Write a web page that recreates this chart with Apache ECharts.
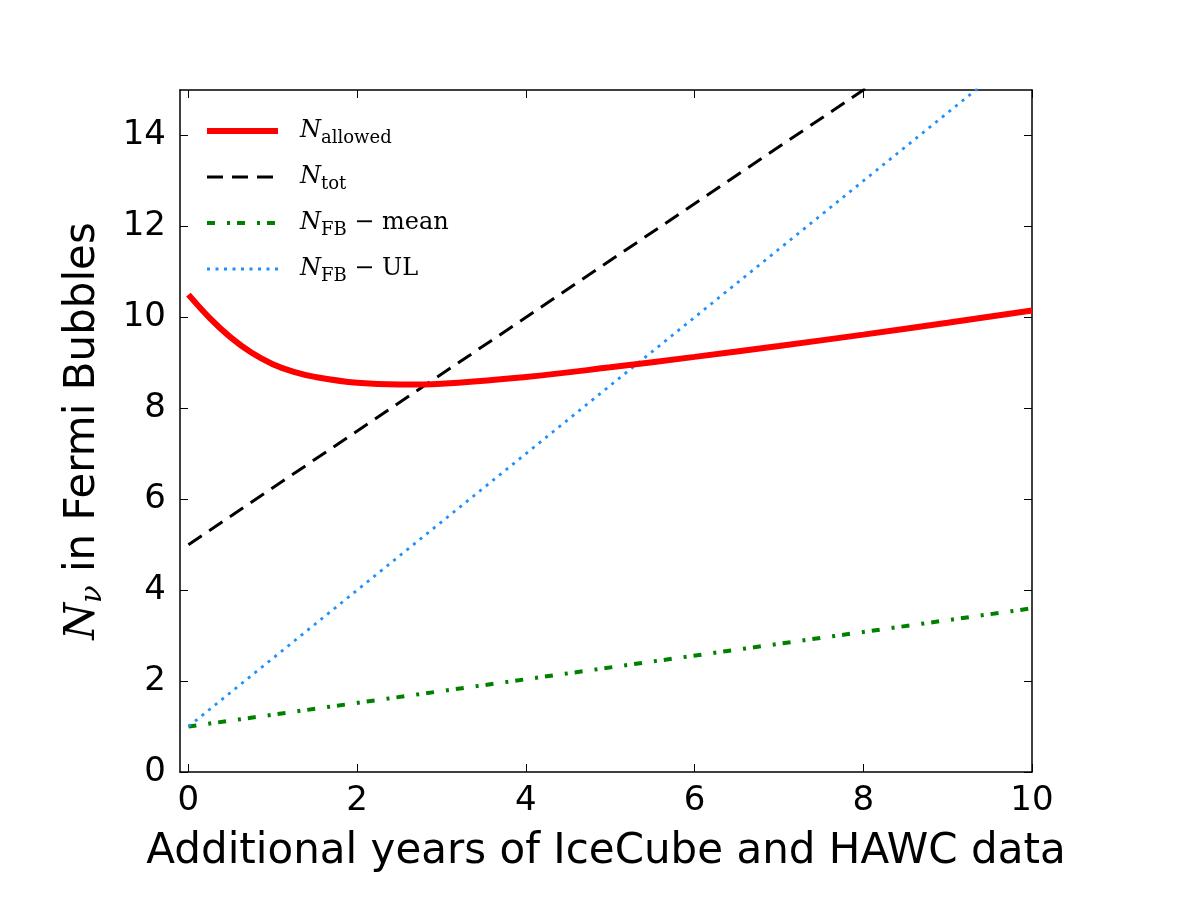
<!DOCTYPE html>
<html>
<head>
<meta charset="utf-8">
<script src="https://cdn.jsdelivr.net/npm/echarts@6/dist/echarts.min.js"></script>
<style>html,body{margin:0;padding:0;background:#fff}#c{width:1200px;height:900px}</style>
</head>
<body>
<div id="c"></div>
<script>
// ---- data ----
const allowedX = [0, 0.25, 0.5, 0.75, 1, 1.25, 1.5, 2, 2.5, 3, 4, 5, 6, 7, 8, 9, 10];
const allowedY = [10.5, 9.99, 9.56, 9.22, 8.97, 8.8, 8.69, 8.56, 8.52, 8.54, 8.69, 8.9, 9.13, 9.37, 9.62, 9.88, 10.15];
const lineX = [0, 10];
const totY = [5, 17.5];
const fbMeanY = [1, 3.6];
const fbUlY = [1, 16];
const xTicks = [0, 2, 4, 6, 8, 10];
const yTicks = [0, 2, 4, 6, 8, 10, 12, 14];
const seriesNames = ['allowed', 'tot', 'mean', 'UL'];

const pair = (xs, ys) => xs.map((x, i) => [x, ys[i]]);

const SERIF = 'DejaVu Serif';
const legendRich = {
  n: {fontFamily: SERIF, fontStyle: 'italic', fontSize: 24, lineHeight: 32, color: '#000', padding: [0, 0, 0, 17]},
  s: {fontFamily: SERIF, fontSize: 18, lineHeight: 16, verticalAlign: 'bottom', color: '#000'},
  t: {fontFamily: SERIF, fontSize: 24, lineHeight: 32, color: '#000'}
};
const legendText = {
  allowed: '{n|N}{s|allowed}',
  tot: '{n|N}{s|tot}',
  mean: '{n|N}{s|FB}{t| − mean}',
  UL: '{n|N}{s|FB}{t| − UL}'
};

const chart = echarts.init(document.getElementById('c'), null, {renderer: 'canvas'});
const axisLineStyle = {onZero: false, lineStyle: {color: '#000', width: 1.5}};
const tickStyle = {inside: true, length: 8, lineStyle: {color: '#000', width: 1}};
const labelFont = {fontFamily: 'DejaVu Sans', fontSize: 34, color: '#000'};
const nameFont = {fontFamily: 'DejaVu Sans', fontSize: 42, color: '#000'};

chart.setOption({
  animation: false,
  backgroundColor: '#fff',
  grid: {left: 180, right: 168, top: 90, bottom: 128},
  legend: {
    orient: 'vertical', left: 204, top: 119, padding: 0, itemWidth: 71, itemHeight: 14, itemGap: 18,
    data: seriesNames,
    formatter: name => legendText[name],
    itemStyle: {opacity: 0},
    lineStyle: {width: 'inherit'},
    textStyle: {rich: legendRich}
  },
  xAxis: [
    {
      type: 'value', min: -0.1, max: 10, position: 'bottom',
      axisLine: axisLineStyle, splitLine: {show: false},
      axisTick: Object.assign({customValues: xTicks}, tickStyle),
      axisLabel: Object.assign({customValues: xTicks, margin: 12}, labelFont),
      name: 'Additional years of IceCube and HAWC data', nameLocation: 'middle', nameGap: 59,
      nameTextStyle: nameFont
    },
    {
      type: 'value', min: -0.1, max: 10, position: 'top',
      axisLine: axisLineStyle, splitLine: {show: false},
      axisTick: Object.assign({customValues: xTicks}, tickStyle),
      axisLabel: {show: false}
    }
  ],
  yAxis: [
    {
      type: 'value', min: 0, max: 15, position: 'left',
      axisLine: axisLineStyle, splitLine: {show: false},
      axisTick: Object.assign({customValues: yTicks}, tickStyle),
      axisLabel: Object.assign({customValues: yTicks, margin: 14}, labelFont),
      name: '{n|N}{s|ν}{t| in Fermi Bubbles}', nameLocation: 'middle', nameGap: 72, nameRotate: 90,
      nameTextStyle: {rich: {
        n: {fontFamily: SERIF, fontStyle: 'italic', fontSize: 42, lineHeight: 50, color: '#000'},
        s: {fontFamily: SERIF, fontStyle: 'italic', fontSize: 29, lineHeight: 24, verticalAlign: 'bottom', color: '#000'},
        t: {fontFamily: 'DejaVu Sans', fontSize: 42, lineHeight: 50, color: '#000'}
      }}
    },
    {
      type: 'value', min: 0, max: 15, position: 'right',
      axisLine: axisLineStyle, splitLine: {show: false},
      axisTick: Object.assign({customValues: yTicks}, tickStyle),
      axisLabel: {show: false}
    }
  ],
  series: [
    {name: 'allowed', type: 'line', data: pair(allowedX, allowedY), smooth: 0.4, showSymbol: false, symbol: 'none',
     lineStyle: {color: '#ff0000', width: 6, cap: 'butt'}, itemStyle: {color: '#ff0000'}, z: 5},
    {name: 'tot', type: 'line', data: pair(lineX, totY), showSymbol: false, symbol: 'none',
     lineStyle: {color: '#000', width: 3, type: [16, 9], cap: 'butt'}, itemStyle: {color: '#000'}},
    {name: 'mean', type: 'line', data: pair(lineX, fbMeanY), showSymbol: false, symbol: 'none',
     lineStyle: {color: '#008000', width: 4, type: [8, 12, 3, 7], cap: 'butt'}, itemStyle: {color: '#008000'}},
    {name: 'UL', type: 'line', data: pair(lineX, fbUlY), showSymbol: false, symbol: 'none',
     lineStyle: {color: '#1e90ff', width: 2.8, type: [3, 5.5], cap: 'butt'}, itemStyle: {color: '#1e90ff'}}
  ]
});
</script>
</body>
</html>
